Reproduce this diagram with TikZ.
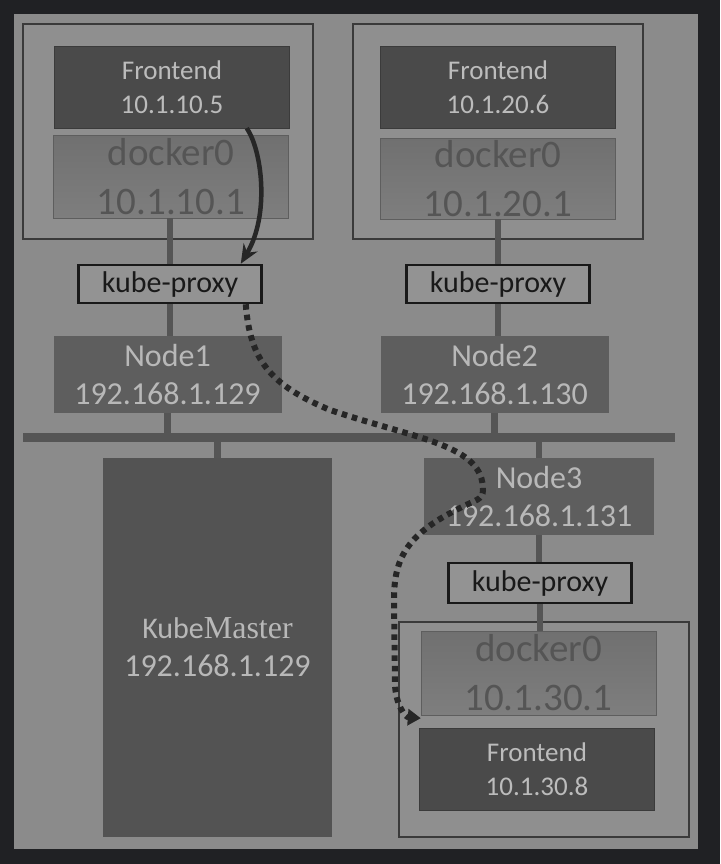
\documentclass[tikz,border=0pt]{standalone}
\usepackage{fontspec}
\setmainfont{Carlito}
\newfontfamily\masterfont{Liberation Serif}
\usetikzlibrary{arrows.meta,calc}

\definecolor{frameDark}{HTML}{202124}
\definecolor{panelGray}{HTML}{8B8B8B}
\definecolor{boxGray}{HTML}{8F8F8F}
\definecolor{boxLine}{HTML}{3A3A3A}
\definecolor{feGray}{HTML}{4A4A4A}
\definecolor{feText}{HTML}{BCBCBC}
\definecolor{dkTop}{HTML}{707070}
\definecolor{dkBot}{HTML}{7E7E7E}
\definecolor{dkLine}{HTML}{5E5E5E}
\definecolor{dkText}{HTML}{555555}
\definecolor{hostGray}{HTML}{5E5E5E}
\definecolor{hostText}{HTML}{B8B8B8}
\definecolor{masterGray}{HTML}{535353}
\definecolor{proxyGray}{HTML}{939393}
\definecolor{stubGray}{HTML}{555555}
\definecolor{arrowGray}{HTML}{262626}

\tikzset{
	container/.style={draw=boxLine, line width=1.2pt, fill=boxGray, minimum width=290, minimum height=215},
	frontend/.style={fill=feGray, draw=feGray!80!black, text=feText, minimum width=235, minimum height=82, inner sep=0pt, align=center, font=\fontsize{27}{34}\selectfont},
	dockerbr/.style={top color=dkTop, bottom color=dkBot, draw=dkLine, text=dkText, minimum width=235, minimum height=83, inner sep=0pt, align=center, font=\fontsize{39}{49}\selectfont},
	proxy/.style={fill=proxyGray, draw=black!90, line width=2.5pt, text=black!90, minimum width=183, minimum height=38, inner sep=0pt, font=\fontsize{30}{32}\selectfont},
	host/.style={fill=hostGray, text=hostText, minimum width=228, minimum height=77, inner sep=0pt, align=center, font=\fontsize{32}{38}\selectfont},
	bus/.style={fill=stubGray, minimum width=652, minimum height=9, inner sep=0pt},
	stub/.style={draw=stubGray, line width=6.5pt},
	flow/.style={draw=arrowGray, line width=4.5pt, -{Stealth[length=19pt,width=16pt]}},
	hop/.style={draw=arrowGray, line width=6pt, dash pattern=on 5.5pt off 5pt, -{Triangle[length=13pt,width=16pt]}}
}

\begin{document}
\begin{tikzpicture}[x=1pt, y=-1pt]
	% Hintergrund
	\useasboundingbox (0,0) rectangle (720,864);
	\fill[frameDark] (0,0) rectangle (720,864);
	\fill[panelGray] (14,14) rectangle (698,849);

	% Pods
	\draw (168,131.5) node[container] (Box1) {};
	\draw (172,87) node[frontend] (Fe1) {Frontend\\10.1.10.5};
	\draw (171,176.5) node[dockerbr] (Dk1) {docker0\\10.1.10.1};
	\draw (498,131.5) node[container] (Box2) {};
	\draw (498,87) node[frontend] (Fe2) {Frontend\\10.1.20.6};
	\draw (498,178.5) node[dockerbr, minimum height=81] (Dk2) {docker0\\10.1.20.1};
	\draw (544,729.5) node[container] (Box3) {};
	\draw (538.5,673) node[dockerbr, minimum height=84] (Dk3) {docker0\\10.1.30.1};
	\draw (537,769) node[frontend] (Fe3) {Frontend\\10.1.30.8};

	% kube-proxy
	\draw (170,284) node[proxy] (Kp1) {kube-proxy};
	\draw (498,284) node[proxy] (Kp2) {kube-proxy};
	\draw (540,583) node[proxy, minimum height=40] (Kp3) {kube-proxy};

	% Rechner
	\draw (167.5,374.5) node[host] (N1) {Node1\\192.168.1.129};
	\draw (494.5,374.5) node[host] (N2) {Node2\\192.168.1.130};
	\draw (539,496.5) node[host, minimum width=230] (N3) {Node3\\192.168.1.131};
	\draw (217.5,647.5) node[host, fill=masterGray, minimum width=229, minimum height=379] (Km)
		{{\fontsize{30}{38}\selectfont Kube}{\masterfont Master}\\192.168.1.129};
	\draw (349,437.5) node[bus] (Bus) {};

	% Verbindungen
	\draw[stub] (Dk1.south -| Kp1.north) -- (Kp1.north);
	\draw[stub] (Kp1.south) -- (Kp1.south |- N1.north);
	\draw[stub] (N1.south) -- (N1.south |- Bus.north);
	\draw[stub] (Dk2.south) -- (Kp2.north);
	\draw[stub] (Kp2.south) -- (Kp2.south |- N2.north);
	\draw[stub] (N2.south) -- (N2.south |- Bus.north);
	\draw[stub] (Km.north) -- (Km.north |- Bus.south);
	\draw[stub] (N3.north) -- (N3.north |- Bus.south);
	\draw[stub] (N3.south) -- (N3.south |- Kp3.north);
	\draw[stub] (Kp3.south) -- (Kp3.south |- Dk3.north);

	% Weg des Pakets
	\draw[flow] ($(Fe1.south east)+(-43,0)$) .. controls (262,150) and (270,215) .. ($(Kp1.north east)+(-22,0)$);
	\draw[hop] ($(Kp1.south east)+(-17,0)$) .. controls (250,360) and (270,385) .. (330,410)
		.. controls (420,440) and (483,445) .. (483,490)
		.. controls (483,500) and (475,500) .. (460,508)
		.. controls (405,535) and (394,560) .. (394,600) -- (395,685)
		.. controls (396,705) and (405,717) .. ($(Dk3.south west)+(0,3)$);
\end{tikzpicture}
\end{document}
